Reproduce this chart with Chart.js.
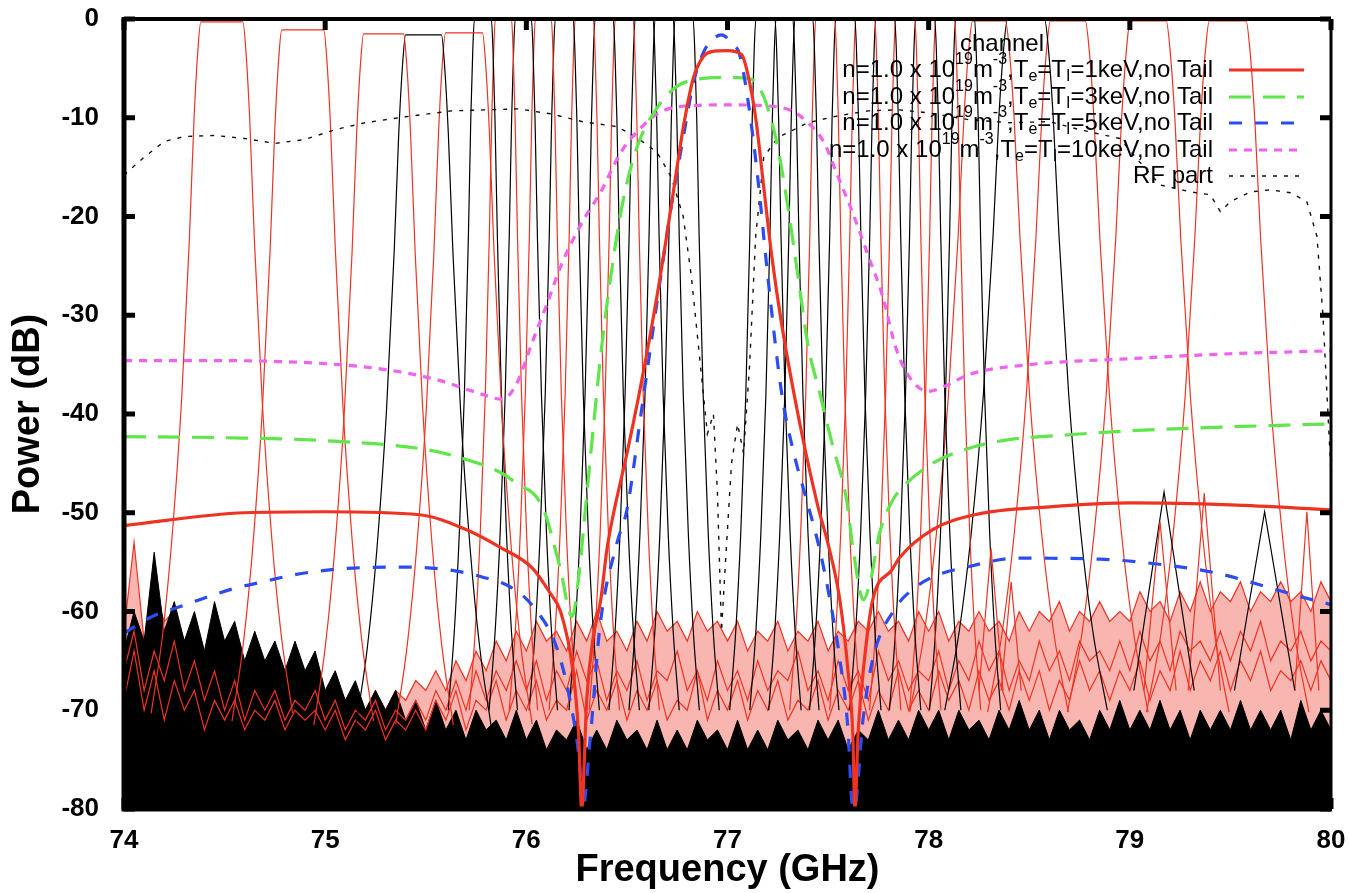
<!DOCTYPE html>
<html>
<head>
<meta charset="utf-8">
<title>Channel response</title>
<script src="https://cdn.jsdelivr.net/npm/chart.js@4.4.1/dist/chart.umd.min.js"></script>
<style>
  html, body { margin: 0; padding: 0; background: #fff; }
</style>
</head>
<body>
<canvas id="spectrum" width="1349" height="893"></canvas>
<script>
// axes
const freqTicks = [74, 75, 76, 77, 78, 79, 80];
const powerTicks = [0, -10, -20, -30, -40, -50, -60, -70, -80];

// plasma spectra, n=1.0e19, no tail
const tempsKeV = [1, 3, 5, 10];

const f1keV = [74.0, 74.6, 75.0, 75.47, 75.7, 75.87, 76.03, 76.12, 76.17, 76.23, 76.26, 76.275, 76.3, 76.33, 76.37, 76.4, 76.43, 76.5, 76.57, 76.65, 76.72, 76.78, 76.83, 76.88, 76.92, 77.0, 77.07, 77.1, 77.14, 77.18, 77.22, 77.27, 77.35, 77.444, 77.509, 77.559, 77.598, 77.623, 77.633, 77.65, 77.68, 77.72, 77.82, 77.857, 78.02, 78.23, 78.6, 79.01, 79.5, 80.0];
const p1keV = [-51.3, -50.0, -49.9, -50.2, -51.7, -53.5, -55.6, -58.2, -60.0, -65.8, -72.5, -80, -69, -62.9, -58.8, -53.8, -50.4, -44, -37, -28, -19, -11, -6, -3.8, -3.3, -3.2, -3.6, -5.5, -10, -17, -24, -31, -40, -48.9, -53.9, -58.9, -65.8, -72.5, -80, -72, -65, -59, -55.7, -54.5, -51.7, -50.2, -49.4, -49.0, -49.2, -49.7];

const f3keV = [74.0, 74.5, 75.0, 75.5, 75.7, 75.86, 75.95, 76.08, 76.167, 76.227, 76.266, 76.29, 76.33, 76.37, 76.42, 76.48, 76.55, 76.65, 76.75, 76.85, 77.0, 77.12, 77.16, 77.2, 77.25, 77.3, 77.35, 77.4, 77.46, 77.52, 77.592, 77.625, 77.675, 77.708, 77.757, 77.822, 77.857, 78.02, 78.23, 78.4, 78.7, 79.0, 79.5, 80.0];
const p3keV = [-42.3, -42.4, -42.7, -43.6, -44.6, -45.8, -47, -49.4, -55.5, -60.5, -55.5, -50.4, -42, -34, -26, -18.5, -13, -9, -6.8, -6.1, -5.9, -6.1, -7, -9, -13, -19, -26, -33, -38, -43, -48.7, -53.8, -58.8, -57.1, -52, -48.7, -47.7, -45, -43.3, -42.6, -42.1, -41.7, -41.3, -41.0];

const f5keV = [74.0, 74.14, 74.28, 74.39, 74.56, 74.69, 74.84, 74.97, 75.14, 75.39, 75.62, 75.78, 75.92, 76.034, 76.15, 76.217, 76.266, 76.28, 76.32, 76.366, 76.45, 76.5, 76.57, 76.65, 76.72, 76.78, 76.83, 76.88, 76.93, 76.97, 77.02, 77.06, 77.1, 77.15, 77.2, 77.27, 77.33, 77.393, 77.459, 77.509, 77.559, 77.6, 77.617, 77.63, 77.675, 77.725, 77.84, 77.906, 78.02, 78.19, 78.44, 78.85, 79.18, 79.43, 79.68, 79.85, 80.0];
const p5keV = [-62.2, -60.5, -59.5, -58.7, -57.6, -57.0, -56.3, -55.9, -55.6, -55.5, -55.8, -56.5, -57.5, -59.5, -63.6, -69, -75.7, -80, -72.3, -61.5, -53.1, -49.7, -40, -28.6, -19, -12, -6.5, -3.4, -2.0, -1.6, -2.4, -3.6, -8, -16, -26, -38, -44, -48.7, -53.8, -58.8, -64.9, -72.3, -79, -80, -70.7, -64.6, -59.5, -58, -56.5, -55.5, -54.6, -54.7, -55.3, -56.1, -57.5, -58.5, -59.3];

const f10keV = [74.0, 74.5, 75.0, 75.3, 75.55, 75.75, 75.88, 75.95, 76.03, 76.1, 76.18, 76.28, 76.37, 76.47, 76.57, 76.67, 76.8, 77.0, 77.2, 77.32, 77.4, 77.48, 77.55, 77.62, 77.7, 77.77, 77.84, 77.92, 78.0, 78.1, 78.2, 78.5, 79.0, 79.5, 80.0];
const p10keV = [-34.6, -34.6, -34.9, -35.5, -36.5, -37.8, -38.5, -37, -32.7, -29, -24.6, -20.5, -17.5, -13.5, -11, -9.4, -8.8, -8.7, -8.8, -9.3, -10.5, -12.5, -16, -19.5, -24, -28, -33.5, -36.7, -37.7, -37, -36, -35, -34.4, -33.9, -33.6];

// RF part
const fRF = [74.0, 74.1, 74.2, 74.3, 74.45, 74.6, 74.75, 74.9, 75.05, 75.2, 75.4, 75.63, 75.8, 75.96, 76.12, 76.28, 76.45, 76.55, 76.65, 76.72, 76.78, 76.82, 76.86, 76.9, 76.93, 76.95, 76.97, 76.99, 77.02, 77.05, 77.08, 77.11, 77.14, 77.18, 77.25, 77.4, 77.55, 77.7, 77.85, 78.0, 78.2, 78.4, 78.6, 78.75, 78.95, 79.05, 79.15, 79.3, 79.4, 79.45, 79.5, 79.6, 79.7, 79.8, 79.88, 79.93, 79.96, 79.98, 80.0];
const pRF = [-15.8, -14, -12.4, -11.9, -11.8, -12.1, -12.6, -12.2, -11.2, -10.5, -9.9, -9.3, -9.2, -9.1, -9.6, -10.4, -10.9, -12, -13.5, -16, -20, -26, -34, -42, -40, -48, -62, -55, -45, -41, -44, -35, -22, -14, -12, -10.5, -9.8, -9.3, -9.2, -9.5, -10.2, -10.5, -10.4, -11.2, -12.1, -14.5, -16.8, -17.5, -17.8, -19.5, -18.5, -17.5, -17.3, -17.6, -18.5, -22, -30, -38, -46];

// filter channels: flat-top edges (GHz), peak (dB), colour, skirt width factor
const chLeft  = [74.382, 74.784, 75.191, 75.400, 75.598, 75.742, 75.846, 75.945, 76.045, 76.144, 76.243, 76.342, 76.442, 76.541, 76.640, 76.739, 77.141, 77.241, 77.335, 77.439, 77.538, 77.638, 77.737, 77.836, 77.935, 78.035, 78.134, 78.218, 78.392, 78.605, 79.002, 79.395];
const chRight = [74.591, 74.993, 75.390, 75.578, 75.782, 75.826, 75.926, 76.025, 76.124, 76.233, 76.333, 76.432, 76.531, 76.630, 76.730, 76.829, 77.236, 77.325, 77.424, 77.533, 77.633, 77.732, 77.831, 77.931, 78.030, 78.129, 78.228, 78.382, 78.576, 78.779, 79.181, 79.578];
const chPeak  = [-0.3, -1.1, -1.5, -1.6, -1.4, 0, 0, 0, 0, 0, 0, 0, 0, 0, 0, 0, 0, 0, 0, 0, 0, 0, 0, 0, 0, 0, 0, -0.2, 0, -0.2, -0.2, -0.2];
const chColor = ['r', 'r', 'r', 'k', 'r', 'k', 'r', 'k', 'r', 'k', 'r', 'k', 'r', 'k', 'k', 'k', 'k', 'k', 'k', 'r', 'k', 'r', 'k', 'r', 'k', 'r', 'k', 'r', 'k', 'r', 'r', 'r'];
const chSkirt = [1.9, 1.9, 1.9, 1.9, 1.9, 1, 1, 1, 1, 1, 1, 1, 1, 1, 1, 1, 1, 1, 1, 1, 1, 1, 1, 1, 1, 1, 1, 2.4, 2.4, 2.4, 2.4, 2.4];
// skirt shape away from the flat top
const skirtOff = [0, 0.008, 0.018, 0.03, 0.05, 0.075, 0.1, 0.13];
const skirtDb  = [0, -3, -10, -22, -38, -52, -62, -70];

// spurious responses
const spurFreq = [78.31, 78.41, 79.15, 79.17, 79.37, 79.67, 79.88];
const spurPeak = [-53.6, -57, -50.9, -47.9, -48, -49.9, -49.9];
const spurHalf = [0.06, 0.05, 0.08, 0.15, 0.08, 0.15, 0.06];
const spurColor = ['r', 'r', 'r', 'k', 'r', 'k', 'r'];

// noise floor, sampled every 0.05 GHz from 74 to 80
const noiseStep = 0.05;
const noiseRedTop = [
  -62, -53, -63, -58, -61, -60, -63, -61, -65, -64,
  -67, -65, -68, -66, -68, -66, -69, -67, -68, -66,
  -69, -67, -69, -68, -70, -68, -70, -68, -69, -67,
  -68, -66, -68, -65, -67, -64, -66, -63, -65, -62,
  -64, -61, -63, -62, -64, -61, -63, -60, -63, -62,
  -64, -61, -63, -60, -62, -61, -63, -60, -62, -61,
  -63, -61, -64, -62, -63, -61, -64, -62, -63, -61,
  -64, -62, -63, -61, -62, -60, -62, -61, -63, -60,
  -62, -60, -63, -61, -62, -60, -62, -61, -63, -60,
  -62, -60, -61, -59, -62, -60, -61, -59, -61, -60,
  -61, -58, -60, -59, -61, -58, -60, -57, -60, -58,
  -59, -57, -60, -58, -59, -57, -59, -58, -60, -57,
  -59
];
const noiseRedMid = [
  -66, -62, -68, -64, -67, -63, -68, -65, -69, -66,
  -70, -67, -71, -68, -70, -68, -71, -69, -70, -68,
  -71, -69, -72, -70, -71, -69, -72, -70, -71, -69,
  -71, -68, -70, -67, -70, -66, -69, -66, -68, -65,
  -68, -65, -69, -66, -68, -64, -67, -65, -69, -66,
  -68, -65, -69, -66, -67, -64, -68, -66, -69, -65,
  -68, -66, -69, -65, -68, -66, -67, -64, -68, -66,
  -69, -65, -68, -66, -69, -64, -67, -65, -68, -66,
  -67, -64, -68, -65, -67, -63, -66, -64, -68, -65,
  -67, -63, -66, -64, -67, -63, -65, -64, -66, -63,
  -66, -62, -65, -63, -66, -62, -64, -63, -65, -62,
  -65, -62, -64, -61, -65, -63, -64, -62, -65, -63,
  -64
];
const noiseRedLow = [
  -69, -64, -70, -66, -71, -67, -70, -68, -72, -69,
  -71, -69, -72, -70, -71, -69, -72, -70, -71, -70,
  -72, -70, -73, -71, -72, -70, -73, -71, -72, -70,
  -72, -69, -71, -68, -72, -69, -70, -67, -71, -68,
  -70, -67, -71, -69, -70, -66, -71, -68, -70, -67,
  -71, -68, -70, -67, -71, -69, -70, -66, -71, -68,
  -70, -67, -71, -68, -70, -67, -71, -69, -70, -67,
  -71, -68, -70, -67, -71, -68, -70, -66, -70, -68,
  -70, -66, -69, -67, -70, -66, -69, -67, -70, -66,
  -69, -66, -70, -67, -69, -65, -68, -66, -69, -66,
  -68, -65, -69, -66, -68, -64, -68, -65, -67, -64,
  -68, -65, -67, -64, -68, -66, -67, -65, -68, -65,
  -67
];
const noiseBlack = [
  -64, -60, -63, -54, -62, -59, -63, -60, -64, -59,
  -63, -61, -65, -62, -65, -63, -66, -63, -66, -64,
  -68, -66, -69, -67, -70, -68, -70, -68, -71, -69,
  -72, -69, -72, -70, -73, -70, -72, -71, -73, -70,
  -73, -71, -74, -72, -73, -71, -74, -72, -74, -71,
  -73, -72, -74, -71, -74, -72, -74, -71, -73, -72,
  -74, -71, -74, -72, -74, -71, -73, -72, -74, -71,
  -73, -71, -74, -72, -73, -70, -73, -71, -73, -70,
  -72, -70, -73, -70, -72, -71, -73, -70, -72, -69,
  -72, -70, -73, -70, -72, -71, -73, -70, -72, -69,
  -72, -70, -72, -69, -72, -70, -73, -70, -72, -70,
  -72, -69, -72, -70, -72, -70, -73, -69, -72, -70,
  -72
];

const RED = '#ee3322';
const FONT = '"Liberation Sans", Arial, Helvetica, sans-serif';

function pairs(xs, ys) {
  return xs.map((x, i) => ({ x: x, y: ys[i] }));
}

function noisePoints(vals) {
  return vals.map((v, i) => ({ x: 74 + i * noiseStep, y: v }));
}

function channelPoints(i) {
  const pts = [];
  for (let k = skirtOff.length - 1; k >= 0; k--) {
    pts.push({ x: chLeft[i] - skirtOff[k] * chSkirt[i], y: chPeak[i] + skirtDb[k] });
  }
  for (let k = 0; k < skirtOff.length; k++) {
    pts.push({ x: chRight[i] + skirtOff[k] * chSkirt[i], y: chPeak[i] + skirtDb[k] });
  }
  return pts;
}

const datasets = [];

const plasma = [
  { f: f1keV, p: p1keV, color: RED, dash: [] },
  { f: f3keV, p: p3keV, color: '#5ee64a', dash: [22, 12] },
  { f: f5keV, p: p5keV, color: '#2b4cf2', dash: [13, 13] },
  { f: f10keV, p: p10keV, color: '#f062f0', dash: [8, 7] }
];
const plasmaOrder = [1, 3, 2, 4];
plasma.forEach((s, i) => {
  datasets.push({
    label: 'T=' + tempsKeV[i] + 'keV',
    legendRow: i,
    data: pairs(s.f, s.p),
    borderColor: s.color,
    borderWidth: 3.2,
    borderDash: s.dash,
    cubicInterpolationMode: 'monotone',
    order: plasmaOrder[i]
  });
});

datasets.push({
  label: 'RF part',
  legendRow: 4,
  data: pairs(fRF, pRF),
  borderColor: '#111',
  borderWidth: 1.4,
  borderDash: [4, 7],
  order: 5
});

spurFreq.forEach((f, i) => {
  datasets.push({
    label: 'spur',
    data: [{ x: f - spurHalf[i], y: -68 }, { x: f, y: spurPeak[i] }, { x: f + spurHalf[i], y: -68 }],
    borderColor: spurColor[i] === 'r' ? RED : '#000',
    borderWidth: 1.2,
    order: 6
  });
});

chLeft.forEach((_, i) => {
  datasets.push({
    label: 'channel',
    data: channelPoints(i),
    borderColor: chColor[i] === 'r' ? RED : '#000',
    borderWidth: 1.2,
    cubicInterpolationMode: 'monotone',
    order: 7
  });
});

[noiseRedMid, noiseRedLow].forEach(vals => {
  datasets.push({
    label: 'noise red',
    data: noisePoints(vals),
    borderColor: RED,
    borderWidth: 1.2,
    order: 8
  });
});
datasets.push({
  label: 'noise black',
  data: noisePoints(noiseBlack),
  borderColor: '#000',
  borderWidth: 1,
  backgroundColor: '#000',
  fill: 'start',
  order: 9
});
datasets.push({
  label: 'noise red band',
  data: noisePoints(noiseRedTop),
  borderColor: RED,
  borderWidth: 1.2,
  backgroundColor: 'rgba(238, 51, 34, 0.36)',
  fill: 'start',
  order: 10
});

function legendParts(t) {
  return [
    { t: 'n=1.0 x 10' }, { t: '19', s: 'sup' }, { t: 'm' }, { t: '-3', s: 'sup' },
    { t: ',T' }, { t: 'e', s: 'sub' }, { t: '=T' }, { t: 'I', s: 'sub' },
    { t: '=' + t + 'keV,no Tail' }
  ];
}

const framePlugin = {
  id: 'frame',
  afterDraw(chart) {
    const ctx = chart.ctx;
    const a = chart.chartArea;
    const xs = chart.scales.x;
    const ys = chart.scales.y;
    ctx.save();

    // key
    const big = '24px ' + FONT;
    const small = '16px ' + FONT;
    const textRight = 1213;
    const rowY = [70, 97, 123, 150, 176];
    ctx.fillStyle = '#000';
    ctx.textBaseline = 'middle';
    ctx.font = big;
    ctx.textAlign = 'center';
    ctx.fillText('channel', 1002, 44);
    ctx.textAlign = 'left';
    chart.data.datasets.forEach(ds => {
      if (ds.legendRow === undefined) return;
      const y = rowY[ds.legendRow];
      const parts = ds.legendRow < 4 ? legendParts(tempsKeV[ds.legendRow]) : [{ t: 'RF part' }];
      let w = 0;
      parts.forEach(p => { ctx.font = p.s ? small : big; w += ctx.measureText(p.t).width; });
      let x = textRight - w;
      parts.forEach(p => {
        ctx.font = p.s ? small : big;
        const dy = p.s === 'sup' ? -10 : (p.s === 'sub' ? 7 : 0);
        ctx.fillText(p.t, x, y + dy);
        x += ctx.measureText(p.t).width;
      });
      ctx.strokeStyle = ds.borderColor;
      ctx.lineWidth = ds.borderWidth;
      ctx.setLineDash(ds.borderDash || []);
      ctx.beginPath();
      ctx.moveTo(1229, y);
      ctx.lineTo(1304, y);
      ctx.stroke();
    });
    ctx.setLineDash([]);

    // frame and inward ticks on all sides
    ctx.strokeStyle = '#000';
    ctx.lineCap = 'butt';
    ctx.lineWidth = 5;
    ctx.beginPath();
    ctx.moveTo(a.left, a.top - 2);
    ctx.lineTo(a.left, a.bottom);
    ctx.lineTo(a.right + 1, a.bottom);
    ctx.stroke();
    ctx.lineWidth = 4;
    ctx.beginPath();
    ctx.moveTo(a.left, a.top);
    ctx.lineTo(a.right, a.top);
    ctx.stroke();
    ctx.lineWidth = 3;
    ctx.beginPath();
    ctx.moveTo(a.right, a.top);
    ctx.lineTo(a.right, a.bottom);
    ctx.stroke();

    ctx.lineWidth = 5;
    ctx.beginPath();
    freqTicks.forEach(v => {
      const px = xs.getPixelForValue(v);
      ctx.moveTo(px, a.bottom);
      ctx.lineTo(px, a.bottom - 11);
      ctx.moveTo(px, a.top);
      ctx.lineTo(px, a.top + 11);
    });
    powerTicks.forEach(v => {
      const py = ys.getPixelForValue(v);
      ctx.moveTo(a.left, py);
      ctx.lineTo(a.left + 11, py);
      ctx.moveTo(a.right, py);
      ctx.lineTo(a.right - 11, py);
    });
    ctx.stroke();
    ctx.restore();
  }
};

new Chart(document.getElementById('spectrum'), {
  type: 'line',
  data: { datasets: datasets },
  options: {
    responsive: false,
    animation: false,
    devicePixelRatio: 1,
    events: [],
    layout: { padding: { left: 0, right: 18, top: 19, bottom: 0 } },
    elements: { point: { radius: 0 }, line: { tension: 0 } },
    plugins: {
      legend: { display: false },
      tooltip: { enabled: false }
    },
    scales: {
      x: {
        type: 'linear',
        min: 74,
        max: 80,
        afterFit: s => { s.height = 84; s.paddingLeft = 0; s.paddingRight = 0; },
        afterBuildTicks: s => { s.ticks = freqTicks.map(v => ({ value: v })); },
        grid: { display: false },
        border: { display: false },
        ticks: {
          padding: 8,
          color: '#000',
          font: { family: FONT, size: 26, weight: 'bold' }
        },
        title: {
          display: true,
          text: 'Frequency (GHz)',
          color: '#000',
          padding: { top: 0, bottom: 0 },
          font: { family: FONT, size: 38, weight: 'bold' }
        }
      },
      y: {
        min: -80,
        max: 0,
        afterFit: s => { s.width = 124; s.paddingTop = 0; s.paddingBottom = 0; },
        afterBuildTicks: s => { s.ticks = powerTicks.map(v => ({ value: v })); },
        grid: { display: false },
        border: { display: false },
        ticks: {
          padding: 17,
          color: '#000',
          font: { family: FONT, size: 26, weight: 'bold' }
        },
        title: {
          display: true,
          text: 'Power (dB)',
          color: '#000',
          padding: { top: 6, bottom: 0 },
          font: { family: FONT, size: 38, weight: 'bold' }
        }
      }
    }
  },
  plugins: [framePlugin]
});
</script>
</body>
</html>
